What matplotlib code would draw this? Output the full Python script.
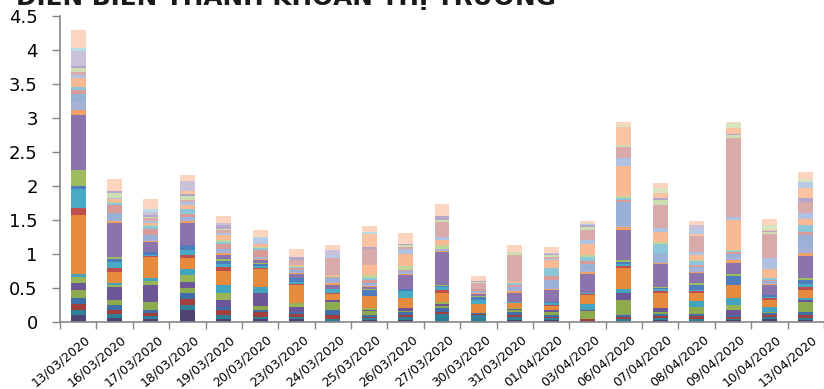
import numpy as np
import matplotlib.pyplot as plt
import matplotlib.transforms as mtransforms

dates = ['13/03/2020', '16/03/2020', '17/03/2020', '18/03/2020', '19/03/2020',
         '20/03/2020', '23/03/2020', '24/03/2020', '25/03/2020', '26/03/2020',
         '27/03/2020', '30/03/2020', '31/03/2020', '01/04/2020', '03/04/2020',
         '06/04/2020', '07/04/2020', '08/04/2020', '09/04/2020', '10/04/2020',
         '13/04/2020']

# gia tri giao dich tung nhom, xep tu duoi len tren
navy      = [.10, .06, .04, .17, .05, .04, .04, .01, .03, .03, .02, .02, .03, .03, .01, .02, .03, .02, .03, .04, .03]
teal      = [.08, .06, .05, .08, .06, .04, .04, .04, .03, .04, .10, .08, .04, .03, .01, .02, .03, .03, .02, .03, .03]
red_dk    = [.08, .06, .04, .09, .06, .06, .04, .06, .02, .04, .03, .02, .03, .02, .02, .03, .03, .04, .03, .04, .05]
blue_dk   = [.09, .07, .04, .08, .05, .04, .03, .06, .02, .03, .05, .01, .04, .03, .01, .03, .03, .03, .02, .02, .04]
olive     = [.12, .08, .13, .08, 0, .06, 0, .12, .06, .02, .04, 0, .03, .03, .11, .23, .03, .10, 0, .02, .15]
purple_m  = [.10, .19, .24, .09, .10, .19, .07, .03, .02, .04, .03, 0, .02, .03, .02, .10, .05, 0, .07, 0, .02]
green_b   = [.09, .03, .06, .10, .10, 0, .06, 0, .02, 0, .02, 0, .01, 0, 0, 0, 0, 0, .08, 0, 0]
aqua      = [.05, .02, .04, .09, .12, .09, 0, 0, 0, 0, .01, 0, 0, 0, .08, .05, 0, .09, .10, .07, .03]
orange    = [.87, .17, .32, .16, .21, .26, .26, .09, .18, .16, .13, .13, .08, .07, .13, .31, .22, .12, .19, .10, .12]
red       = [.10, .06, .01, .05, .06, .01, .02, .02, 0, 0, .04, 0, 0, .01, .02, .03, .03, .02, 0, .03, .05]
aqua2     = [.28, .08, .02, .07, .05, .03, .03, .05, 0, .10, .04, .06, .01, .03, .01, .04, .03, .02, 0, .02, .04]
blue      = [.04, .04, .04, .07, .04, .03, .05, 0, .09, .02, .02, .05, .01, .02, .01, .02, .02, .08, .13, .02, .06]
green2    = [.23, .04, 0, 0, .03, .02, 0, 0, .02, .01, .01, .01, 0, 0, 0, .03, .02, .03, .03, .01, .02]
purple    = [.82, .50, .15, .33, .06, .04, .06, .06, .02, .20, .49, .03, .13, .17, .27, .45, .34, .14, .17, .14, .33]
stripe_a  = [.07, .02, .01, .03, .03, .02, .02, .03, .02, .02, .01, .01, .02, .02, .03, .03, .01, .02, .04, .02, .04]
stripe_b  = [.12, .02, .02, .03, .03, .03, .02, .03, .02, .02, .04, .02, .03, .03, .04, .03, 0, .04, .05, .02, .09]
blue_l    = [.11, .10, .07, .03, .03, 0, .03, .04, .03, .02, 0, .02, .04, .10, .09, .34, .13, .03, .04, .02, .18]
pink_s    = [.06, .12, .09, .04, .06, .10, .02, .02, .04, .02, 0, .02, .02, .06, .04, .03, 0, .03, .03, .02, .04]
aqua_l    = [.05, .03, .04, .07, .04, .03, .02, 0, .03, 0, 0, .01, .03, .12, .06, .04, .14, .05, .02, .02, .10]
green_l   = [0, .02, .01, 0, .03, .02, .01, .01, .04, .06, .05, 0, 0, 0, .02, .03, .04, .02, .01, 0, 0]
orange_l  = [.13, .04, .04, .06, .07, .03, .02, .02, .15, .17, .08, 0, .04, .11, .17, .44, .15, .07, .44, .14, .09]
blue_l_s  = [.04, .02, .03, .04, .03, .02, 0, 0, 0, .08, .04, 0, 0, .02, .06, .11, .05, .05, .04, .16, .09]
pink      = [.04, 0, .04, .04, .04, 0, .07, .25, .24, .03, .22, .09, .37, .03, .14, .17, .34, .23, 1.16, .36, .16]
green_l2  = [.06, .06, .02, .05, .02, 0, 0, 0, 0, .02, .03, .01, .05, .02, .04, .02, .07, 0, .05, .02, 0]
lav       = [.03, .04, .03, .03, .06, 0, .04, 0, .02, .02, .06, .02, 0, .02, .03, 0, .04, 0, .01, .02, .06]
orange_l2 = [0, 0, 0, .04, 0, 0, 0, 0, .20, 0, 0, 0, 0, 0, 0, .27, .07, .04, .09, .02, .15]
blue_l2   = [0, 0, 0, 0, 0, .07, 0, .05, 0, 0, 0, 0, 0, 0, .02, 0, 0, .07, 0, 0, .09]
lav2      = [.23, 0, .04, .16, .02, 0, 0, .07, 0, 0, 0, 0, 0, .02, 0, 0, 0, .05, .01, 0, 0]
aqua_l2   = [.04, 0, .04, 0, 0, .02, 0, 0, .03, 0, 0, 0, 0, 0, 0, 0, 0, 0, 0, 0, 0]
green_l3  = [0, 0, 0, 0, 0, 0, 0, 0, 0, 0, 0, 0, 0, 0, .02, .03, .07, 0, .06, .06, .05]
peach     = [.26, .18, .15, .08, .11, .11, .12, .07, .08, .16, .18, .06, .10, .09, .03, .04, .07, .07, .02, .10, .10]

series = [navy, teal, red_dk, blue_dk, olive, purple_m, green_b, aqua, orange,
          red, aqua2, blue, green2, purple, stripe_a, stripe_b, blue_l, pink_s,
          aqua_l, green_l, orange_l, blue_l_s, pink, green_l2, lav, orange_l2,
          blue_l2, lav2, aqua_l2, green_l3, peach]
colors = ['#4F4373', '#2E7F97', '#A23E3B', '#3F6EA8', '#8DAA4E', '#6D5697',
          '#97B457', '#44A4C0', '#E68A3D', '#BE4F4C', '#49AAC5', '#4D7DBC',
          '#9DBB5F', '#8B74AB', '#F0A167', '#A6B3D6', '#99B1D6', '#D99B98',
          '#8EC6D9', '#C0D59C', '#F8B993', '#AFC2E2', '#D9AAAA', '#CEDEB2',
          '#B5A7CA', '#F9C3A4', '#B8CAE6', '#CBC2DA', '#B9DDE8', '#D7E4BE',
          '#FCD4C0']

fig = plt.figure(figsize=(8.24, 3.89), dpi=100)
ax = fig.add_axes([0.0728, 0.1722, 0.9272, 0.7866])

x = np.arange(len(dates))
bottom = np.zeros(len(dates))
for vals, c in zip(series, colors):
    vals = np.array(vals)
    ax.bar(x, vals, width=0.41, bottom=bottom, color=c, linewidth=0)
    bottom += vals

ax.set_xlim(-0.5, len(dates) - 0.5)
ax.set_ylim(0, 4.5)
ax.set_yticks(np.arange(0, 4.51, 0.5))
ax.set_yticklabels(['0', '0.5', '1', '1.5', '2', '2.5', '3', '3.5', '4', '4.5'])

# vach chia o ranh gioi tung ngay, nhan ngay o giua cot
ax.set_xticks(np.arange(-0.5, len(dates), 1))
ax.set_xticklabels([])
ax.set_xticks(x, minor=True)
ax.set_xticklabels(dates, minor=True, rotation=40, ha='right', va='top',
                   rotation_mode='anchor', fontsize=9)
ax.tick_params(axis='x', which='minor', length=0, pad=8)
ax.tick_params(axis='x', which='major', length=5, color='#868686', width=1)
ax.tick_params(axis='y', length=6, color='#868686', width=1, labelsize=13, pad=10)

shift = mtransforms.ScaledTranslation(6 / 100, 0, fig.dpi_scale_trans)
for lbl in ax.get_xticklabels(minor=True):
    lbl.set_transform(lbl.get_transform() + shift)

for s in ['top', 'right']:
    ax.spines[s].set_visible(False)
for s in ['left', 'bottom']:
    ax.spines[s].set_color('#868686')
    ax.spines[s].set_linewidth(1.2)

fig.text(0.02, 0.986, 'DIỄN BIẾN THANH KHOẢN THỊ TRƯỜNG', fontsize=17.8,
         fontweight='bold', color='#1A1A1A', ha='left', va='baseline')

fig.savefig('out.png', dpi=100)
